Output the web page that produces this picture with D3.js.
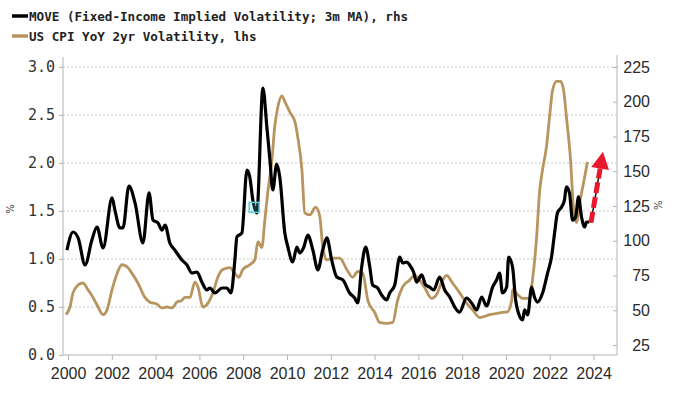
<!DOCTYPE html>
<html>
<head>
<meta charset="utf-8">
<script src="https://cdn.jsdelivr.net/npm/d3@7"></script>
<style>
  body { margin: 0; background: #fff; }
  svg { display: block; }
</style>
</head>
<body>
<svg id="chart" width="700" height="394"></svg>
<script>
// MOVE index, 3m MA (rhs)
const moveYear = [1999.95,2000.23,2000.46,2000.78,2001.09,2001.32,2001.60,2002.01,2002.14,2002.37,2002.51,2002.78,2003.06,2003.42,2003.70,2003.88,2004.11,2004.29,2004.43,2004.65,2004.88,2005.20,2005.43,2005.66,2005.89,2006.11,2006.34,2006.48,2006.71,2007.03,2007.25,2007.44,2007.62,2007.71,2007.94,2008.17,2008.30,2008.44,2008.62,2008.90,2009.08,2009.22,2009.35,2009.53,2009.67,2009.90,2010.04,2010.26,2010.45,2010.58,2010.77,2010.95,2011.18,2011.41,2011.63,2011.82,2012.04,2012.27,2012.55,2012.86,2013.09,2013.23,2013.41,2013.59,2013.78,2013.91,2014.14,2014.32,2014.55,2014.69,2014.92,2015.15,2015.28,2015.47,2015.60,2015.78,2015.92,2016.15,2016.33,2016.51,2016.70,2016.97,2017.20,2017.43,2017.66,2017.88,2018.20,2018.43,2018.66,2018.89,2019.11,2019.39,2019.57,2019.71,2019.84,2020.03,2020.12,2020.30,2020.44,2020.57,2020.76,2020.85,2020.99,2021.17,2021.30,2021.44,2021.67,2021.90,2022.08,2022.22,2022.35,2022.54,2022.67,2022.76,2022.90,2023.04,2023.18,2023.31,2023.45,2023.59,2023.68,2023.81];
const moveVal = [93.3,106.3,102.0,82.6,100.5,109.9,94.8,130.8,122.1,109.2,109.2,139.4,127.2,98.4,134.4,114.9,112.8,107.7,111.3,98.4,93.3,86.2,82.6,76.8,77.5,70.3,64.6,66.0,62.4,66.0,66.0,62.4,86.2,102.7,105.6,150.9,145.9,129.3,120.0,209.9,181.8,158.1,136.5,155.2,145.9,105.6,95.5,84.7,95.5,91.2,95.5,104.1,93.3,79.0,93.3,102.0,86.2,73.9,71.8,62.4,58.8,55.2,81.1,95.5,81.1,68.2,66.0,61.0,57.4,62.4,68.2,88.3,84.0,84.7,82.6,77.5,70.3,75.4,68.2,66.7,64.6,73.9,64.6,59.5,52.3,48.7,58.8,55.2,50.2,59.5,53.1,66.7,71.8,76.8,62.4,66.7,88.3,81.1,57.4,48.0,43.0,50.2,46.6,66.7,59.5,55.9,62.4,76.8,88.3,105.6,120.0,124.3,129.3,138.7,134.4,114.9,117.1,131.5,117.1,109.9,113.5,113.5];

// US CPI YoY 2yr volatility (lhs, %)
const cpiYear = [1999.91,2000.09,2000.23,2000.46,2000.68,2000.91,2001.14,2001.37,2001.60,2001.78,2002.01,2002.24,2002.46,2002.69,2002.92,2003.19,2003.51,2003.74,2004.06,2004.29,2004.52,2004.74,2004.97,2005.20,2005.34,2005.57,2005.79,2005.93,2006.16,2006.39,2006.62,2006.84,2007.07,2007.39,2007.62,2007.80,2007.98,2008.30,2008.53,2008.67,2008.85,2008.99,2009.12,2009.31,2009.44,2009.58,2009.76,2009.90,2010.13,2010.36,2010.49,2010.68,2010.81,2011.04,2011.31,2011.50,2011.63,2011.82,2012.09,2012.41,2012.73,2013.00,2013.23,2013.46,2013.69,2014.01,2014.23,2014.55,2014.83,2015.05,2015.28,2015.60,2015.83,2016.06,2016.29,2016.61,2016.83,2017.06,2017.29,2017.56,2017.88,2018.20,2018.48,2018.80,2019.25,2019.71,2020.07,2020.26,2020.30,2020.53,2020.76,2021.08,2021.21,2021.40,2021.53,2021.67,2021.85,2021.99,2022.13,2022.31,2022.49,2022.63,2022.76,2022.95,2023.08,2023.22,2023.36,2023.54,2023.72];
const cpiVal = [0.42,0.50,0.65,0.73,0.75,0.68,0.60,0.50,0.42,0.47,0.68,0.85,0.94,0.92,0.85,0.75,0.60,0.55,0.53,0.49,0.50,0.49,0.55,0.57,0.60,0.60,0.76,0.71,0.50,0.54,0.65,0.81,0.89,0.91,0.85,0.81,0.89,0.94,0.99,1.18,1.12,1.41,1.69,2.03,2.38,2.58,2.70,2.64,2.53,2.43,2.27,1.93,1.48,1.46,1.54,1.44,1.13,0.99,1.01,1.01,0.89,0.81,0.87,0.85,0.57,0.44,0.34,0.33,0.34,0.57,0.71,0.78,0.83,0.78,0.70,0.59,0.63,0.76,0.83,0.75,0.65,0.54,0.47,0.39,0.42,0.44,0.45,0.57,0.68,0.63,0.59,0.59,0.78,1.23,1.69,1.93,2.17,2.48,2.76,2.85,2.85,2.76,2.48,2.03,1.54,1.38,1.58,1.79,2.01];

const xTicks = d3.range(2000, 2025, 2);
const leftTicks = [0, 0.5, 1.0, 1.5, 2.0, 2.5, 3.0];
const rightTicks = [25, 50, 75, 100, 125, 150, 175, 200, 225];

// arrow annotation (start, tip) in year / rhs units, plus the cyan marker
const arrowYear = [2023.88, 2024.43];
const arrowVal = [113, 164];
const markYear = [2008.5];
const markVal = [124];

const svg = d3.select("#chart");
const plotL = 63, plotR = 617, plotT = 57, plotB = 355;

const x = d3.scaleLinear().domain([1999.77, 2025.07]).range([plotL, plotR]);
const yL = d3.scaleLinear().domain([0, 3.0]).range([355, 67]);
const yR = d3.scaleLinear().domain([17.8, 225]).range([355, 67]);

// gridlines (dotted, at lhs ticks)
svg.append("g").selectAll("line")
  .data(leftTicks.filter(d => d > 0))
  .enter().append("line")
  .attr("x1", plotL).attr("x2", plotR)
  .attr("y1", d => yL(d)).attr("y2", d => yL(d))
  .attr("stroke", "#c8c8c8")
  .attr("stroke-width", 1)
  .attr("stroke-dasharray", "2,2");

// frame lines
const axisCol = "#b4b4b4";
svg.append("line").attr("x1", plotL).attr("x2", plotL).attr("y1", plotT).attr("y2", plotB).attr("stroke", axisCol);
svg.append("line").attr("x1", plotR).attr("x2", plotR).attr("y1", plotT - 2).attr("y2", plotB).attr("stroke", axisCol);
svg.append("line").attr("x1", plotL).attr("x2", plotR).attr("y1", plotB).attr("y2", plotB).attr("stroke", axisCol);

// x axis
const xAxis = svg.append("g")
  .attr("transform", `translate(0,${plotB})`)
  .call(d3.axisBottom(x).tickValues(xTicks).tickFormat(d3.format("d")).tickSize(5).tickPadding(8));
xAxis.select(".domain").remove();
xAxis.selectAll("line").attr("stroke", axisCol);
xAxis.selectAll("text")
  .attr("font-family", "Liberation Sans, Arial, sans-serif")
  .attr("font-size", 16)
  .attr("fill", "#2a2a2a");

// left axis
const lAxis = svg.append("g")
  .attr("transform", `translate(${plotL},0)`)
  .call(d3.axisLeft(yL).tickValues(leftTicks).tickFormat(d3.format(".1f")).tickSize(4).tickPadding(4));
lAxis.select(".domain").remove();
lAxis.selectAll("line").attr("stroke", axisCol);
lAxis.selectAll("text")
  .attr("font-family", "DejaVu Sans Mono, monospace")
  .attr("font-size", 15)
  .attr("fill", "#333");

// right axis (ticks point inward)
const rAxis = svg.append("g")
  .attr("transform", `translate(${plotR},0)`)
  .call(d3.axisLeft(yR).tickValues(rightTicks).tickFormat(d3.format("d")).tickSize(4).tickPadding(0));
rAxis.select(".domain").remove();
rAxis.selectAll("line").attr("stroke", axisCol);
rAxis.selectAll("text")
  .attr("x", 33)
  .attr("text-anchor", "end")
  .attr("font-family", "Liberation Sans, Arial, sans-serif")
  .attr("font-size", 16)
  .attr("fill", "#2a2a2a");

// % unit labels (rotated)
svg.append("text")
  .attr("transform", `translate(14,${yL(1.52)}) rotate(-90)`)
  .attr("text-anchor", "middle")
  .attr("font-family", "DejaVu Sans, sans-serif")
  .attr("font-size", 10)
  .attr("fill", "#333")
  .text("%");
svg.append("text")
  .attr("transform", `translate(662,${yR(125.5)}) rotate(-90)`)
  .attr("text-anchor", "middle")
  .attr("font-family", "DejaVu Sans, sans-serif")
  .attr("font-size", 10)
  .attr("fill", "#333")
  .text("%");

// series
const cpiData = cpiYear.map((d, i) => [d, cpiVal[i]]);
const moveData = moveYear.map((d, i) => [d, moveVal[i]]);

svg.append("path")
  .datum(cpiData)
  .attr("fill", "none")
  .attr("stroke", "#b8945e")
  .attr("stroke-width", 2.8)
  .attr("stroke-linejoin", "round")
  .attr("d", d3.line().x(d => x(d[0])).y(d => yL(d[1])).curve(d3.curveMonotoneX));

svg.append("path")
  .datum(moveData)
  .attr("fill", "none")
  .attr("stroke", "#000")
  .attr("stroke-width", 3.2)
  .attr("stroke-linejoin", "round")
  .attr("d", d3.line().x(d => x(d[0])).y(d => yR(d[1])).curve(d3.curveMonotoneX));

// cyan marker
svg.append("rect")
  .attr("x", x(markYear[0]) - 5)
  .attr("y", yR(markVal[0]) - 5)
  .attr("width", 10).attr("height", 10)
  .attr("fill", "rgba(80,200,210,0.25)")
  .attr("stroke", "#5cd0d8")
  .attr("stroke-width", 1.5);

// red dashed arrow
const ax0 = x(arrowYear[0]), ay0 = yR(arrowVal[0]);
const ax1 = x(arrowYear[1]), ay1 = yR(arrowVal[1]);
const ang = Math.atan2(ay1 - ay0, ax1 - ax0);
const headLen = 17, headW = 9;
const bx = ax1 - headLen * Math.cos(ang), by = ay1 - headLen * Math.sin(ang);
svg.append("line")
  .attr("x1", ax0).attr("y1", ay0).attr("x2", bx).attr("y2", by)
  .attr("stroke", "#111").attr("stroke-width", 1.5);
svg.append("line")
  .attr("x1", ax0).attr("y1", ay0).attr("x2", bx).attr("y2", by)
  .attr("stroke", "#e8192c").attr("stroke-width", 5)
  .attr("stroke-dasharray", "11,4");
const nx = -Math.sin(ang), ny = Math.cos(ang);
svg.append("path")
  .attr("d", `M${ax1},${ay1}L${bx + nx * headW},${by + ny * headW}L${bx - nx * headW},${by - ny * headW}Z`)
  .attr("fill", "#e8192c");

// legend
const legend = [
  { label: "MOVE (Fixed-Income Implied Volatility; 3m MA), rhs", color: "#000", y: 16 },
  { label: "US CPI YoY 2yr Volatility, lhs", color: "#b8945e", y: 36 }
];
const lg = svg.append("g");
lg.selectAll("line").data(legend).enter().append("line")
  .attr("x1", 12).attr("x2", 28)
  .attr("y1", d => d.y).attr("y2", d => d.y)
  .attr("stroke", d => d.color)
  .attr("stroke-width", 3.5);
lg.selectAll("text").data(legend).enter().append("text")
  .attr("x", 29).attr("y", d => d.y + 4.5)
  .attr("font-family", "DejaVu Sans Mono, monospace")
  .attr("font-size", 12.6)
  .attr("font-weight", "bold")
  .attr("fill", "#222")
  .text(d => d.label);
</script>
</body>
</html>
